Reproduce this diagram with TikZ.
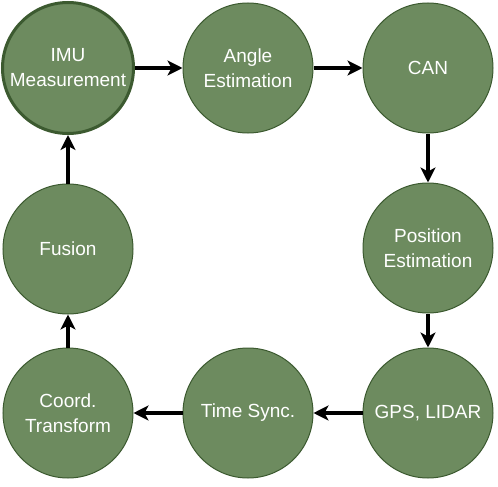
\documentclass[tikz,border=0pt]{standalone}
\usepackage{fontspec}
\setmainfont{Liberation Sans}
\usetikzlibrary{arrows.meta}
\definecolor{nodefill}{HTML}{6D8B5F}
\definecolor{nodeedge}{HTML}{3C5A30}
\tikzset{
  stage/.style={circle, fill=nodefill, draw=nodeedge, line width=1pt,
    minimum size=130pt, inner sep=0pt, text=white, align=center,
    font=\fontsize{19pt}{25pt}\selectfont},
  mainstage/.style={stage, line width=3pt, minimum size=131pt},
  flow/.style={line width=3.2pt, -{Stealth[length=15pt,width=15pt,inset=4pt]}}
}
\begin{document}
\begin{tikzpicture}[x=1pt,y=-1pt]
\useasboundingbox (0,0) rectangle (498,487);
\node[mainstage] (imu) at (68,68) {IMU\\Measurement};
\node[stage] (angle) at (248,68) {Angle\\Estimation};
\node[stage] (can) at (428,68) {CAN};
\node[stage] (pos) at (428,248) {Position\\Estimation};
\node[stage] (gps) at (428,413) {GPS, LIDAR};
\node[stage] (sync) at (248,413) {Time Sync.};
\node[stage] (coord) at (68,413) {Coord.\\Transform};
\node[stage] (fusion) at (68,249) {Fusion};
\draw[flow] (imu) -- (angle);
\draw[flow] (angle) -- (can);
\draw[flow] (can) -- (pos);
\draw[flow] (pos) -- (gps);
\draw[flow] (gps) -- (sync);
\draw[flow] (sync) -- (coord);
\draw[flow] (coord) -- (fusion);
\draw[flow] (fusion) -- (imu);
\end{tikzpicture}
\end{document}
